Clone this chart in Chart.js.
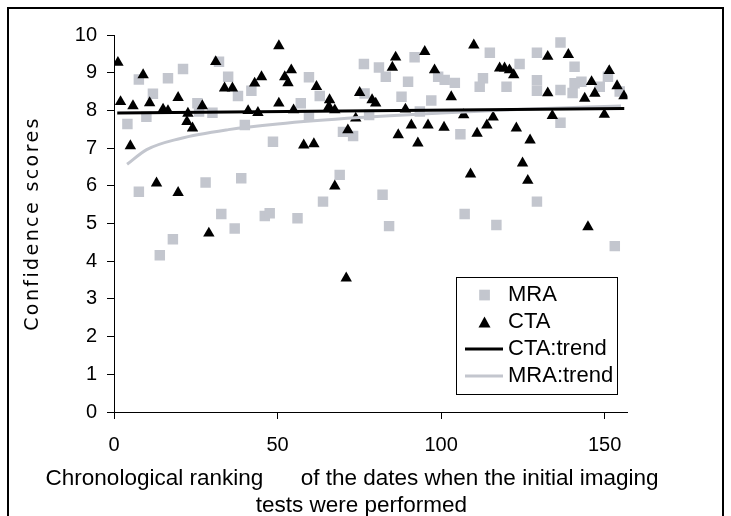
<!DOCTYPE html>
<html><head><meta charset="utf-8">
<script src="https://cdn.jsdelivr.net/npm/chart.js@4.4.0/dist/chart.umd.min.js"></script>
<style>html,body{margin:0;padding:0;background:#fff;}canvas{display:block;}</style>
</head><body>
<canvas id="c" width="731" height="516"></canvas>
<script>
// ---- data ----
const seriesNames = ['MRA', 'CTA', 'CTA:trend', 'MRA:trend'];
const mraX = [7.6,16.5,21.1,11.9,9.9,4.1,25.5,26.0,30.1,32.1,7.6,28.0,32.8,34.9,37.9,42.0,40.0,57.1,59.6,62.9,59.6,48.6,70.0,38.9,69.0,63.9,36.9,46.1,47.6,56.1,18.0,14.0,76.4,81.0,83.1,91.9,89.9,76.6,87.9,97.0,99.1,101.1,104.2,78.0,73.1,93.5,105.9,82.1,107.2,84.1,116.9,136.5,114.9,129.3,124.0,140.8,112.8,111.8,120.0,129.3,129.3,136.5,140.8,142.9,148.5,151.0,154.6,136.5,129.3,153.1,140.2];
const mraY = [8.82,8.85,9.10,8.44,7.83,7.64,8.19,7.97,7.94,9.29,5.84,6.09,5.25,8.89,8.38,8.52,7.61,8.19,8.88,8.38,7.85,7.17,7.43,6.20,6.29,5.58,4.87,5.20,5.27,5.14,4.58,4.16,9.23,9.14,8.89,9.41,8.76,8.45,8.36,8.26,8.89,8.81,8.73,7.88,7.32,7.97,7.37,5.76,5.25,4.93,4.96,9.80,9.53,9.53,9.23,9.16,8.85,8.63,8.63,8.80,8.52,8.54,8.72,8.76,8.63,8.89,8.50,7.67,5.58,4.40,8.46];
const ctaX = [1.2,8.9,2.0,5.8,10.9,15.0,16.5,19.6,22.6,22.3,24.0,27.0,31.1,33.8,5.0,13.0,19.6,50.4,45.1,43.0,54.2,52.2,53.2,36.2,61.9,41.0,44.0,50.4,54.9,65.9,65.7,67.5,58.0,61.1,71.5,67.5,95.0,86.1,85.1,98.0,75.1,78.9,80.0,103.1,89.1,73.9,90.9,96.0,100.9,86.9,92.9,106.9,110.0,117.9,119.4,120.9,122.2,132.6,138.9,132.6,146.0,147.0,143.9,151.4,115.9,114.0,111.0,123.0,127.2,134.0,149.9,109.0,124.9,126.5,29.0,71.0,144.9,153.8,155.9];
const ctaY = [9.27,8.94,8.23,8.12,8.20,8.03,7.99,8.34,7.92,7.70,7.53,8.12,9.29,8.59,7.06,6.07,5.82,9.71,8.89,8.72,9.07,8.89,8.73,8.59,8.63,7.99,7.94,8.19,8.01,8.28,8.10,8.01,7.08,7.11,7.48,5.99,9.56,9.41,9.14,9.07,8.47,8.28,8.19,8.36,8.03,7.79,7.61,7.61,7.55,7.35,7.13,7.88,9.73,9.12,9.12,9.07,8.94,9.43,9.48,8.46,8.76,8.45,8.32,9.05,7.82,7.61,7.39,7.53,7.21,7.86,7.89,6.31,6.60,6.14,4.74,3.55,4.91,8.65,8.38];
const ctaTrendX = [1, 156];
const ctaTrendY = [7.93, 8.05];
const mraTrendX = [4, 10, 20, 35, 50, 75, 100, 125, 155];
const mraTrendY = [6.57, 6.96, 7.25, 7.49, 7.64, 7.81, 7.93, 8.03, 8.12];
const xTickValues = [0, 50, 100, 150];
const yTickValues = [0, 1, 2, 3, 4, 5, 6, 7, 8, 9, 10];
const xMax = 157;
const xTitleLines = ['Chronological ranking      of the dates when the initial imaging      ', 'tests were performed   '];
const yTitleText = 'Confidence scores';

// ---- styling ----
const GRAY = '#c3c6ce';
const BLACK = '#000000';
const pts = (xs, ys) => xs.map((x, i) => ({x: x, y: ys[i]}));
const PX_PER_UNIT = 3.271;
const PLOT_LEFT = 114;

function makeIcon(draw) {
  const c = document.createElement('canvas');
  c.width = 44; c.height = 14;
  draw(c.getContext('2d'));
  return c;
}
const icons = [
  makeIcon(g => { g.fillStyle = GRAY; g.fillRect(20.2, 1.7, 10.7, 10.7); }),
  makeIcon(g => { g.fillStyle = BLACK; g.beginPath(); g.moveTo(25.5, 1.5); g.lineTo(31.5, 12.5); g.lineTo(19.5, 12.5); g.closePath(); g.fill(); }),
  makeIcon(g => { g.fillStyle = BLACK; g.fillRect(6, 5.5, 38, 3); }),
  makeIcon(g => { g.fillStyle = GRAY; g.fillRect(6, 5.5, 38, 3); })
];

const LEGFRAME = {left: 456, top: 277, right: 617, bottom: 394};

const framePlugin = {
  id: 'frames',
  afterLayout(chart) {
    const L = chart.legend;
    if (L) {
      L.left = 460; L.top = 279;
      L.right = 460 + L.width; L.bottom = 279 + 300;
    }
  },
  beforeDraw(chart) {
    const s = chart.scales.y;
    if (s && !s._lsPatched) {
      const orig = s.drawTitle;
      s.drawTitle = function() {
        const ctx = this.ctx; ctx.save();
        ctx.letterSpacing = '2.4px';
        orig.apply(this, arguments);
        ctx.restore();
      };
      s._lsPatched = true;
    }
    const sx = chart.scales.x;
    if (sx && !sx._twPatched) {
      const origX = sx.drawTitle;
      sx.drawTitle = function() {
        const l = this.left, r = this.right, c = (l + r) / 2;
        this.left = c - 400; this.right = c + 400;
        try { origX.apply(this, arguments); } finally { this.left = l; this.right = r; }
      };
      sx._twPatched = true;
    }
  },
  afterDraw(chart) {
    const ctx = chart.ctx;
    ctx.save();
    ctx.strokeStyle = '#000';
    ctx.lineWidth = 1;
    ctx.strokeRect(LEGFRAME.left + 0.5, LEGFRAME.top + 0.5, LEGFRAME.right - LEGFRAME.left, LEGFRAME.bottom - LEGFRAME.top);
    ctx.lineWidth = 2;
    ctx.strokeRect(8, 8, 715, 530);
    ctx.restore();
  }
};

const tickFont = {family: "'Liberation Sans', Arial, sans-serif", size: 20};

new Chart(document.getElementById('c'), {
  type: 'scatter',
  data: {
    datasets: [
      {label: seriesNames[0], data: pts(mraX, mraY), pointStyle: 'rect', pointRadius: 7.4, pointHoverRadius: 7.4,
       backgroundColor: GRAY, borderColor: GRAY, borderWidth: 0, order: 4},
      {label: seriesNames[1], data: pts(ctaX, ctaY), pointStyle: 'triangle', pointRadius: 6.6, pointHoverRadius: 6.6,
       backgroundColor: BLACK, borderColor: BLACK, borderWidth: 0, order: 3},
      {label: seriesNames[2], type: 'line', data: pts(ctaTrendX, ctaTrendY), borderColor: BLACK, backgroundColor: BLACK,
       borderWidth: 3, pointRadius: 0, showLine: true, fill: false, order: 1},
      {label: seriesNames[3], type: 'line', data: pts(mraTrendX, mraTrendY), borderColor: GRAY, backgroundColor: GRAY,
       borderWidth: 3, pointRadius: 0, showLine: true, fill: false, cubicInterpolationMode: 'monotone', order: 2}
    ]
  },
  options: {
    responsive: false,
    maintainAspectRatio: false,
    animation: false,
    devicePixelRatio: 1,
    layout: {padding: {left: 0, top: 35, right: 731 - (PLOT_LEFT + xMax * PX_PER_UNIT), bottom: 0}},
    plugins: {
      tooltip: {enabled: false},
      title: {display: false},
      legend: {
        display: true,
        position: 'chartArea',
        align: 'start',
        labels: {
          usePointStyle: true,
          pointStyleWidth: 32,
          padding: 5,
          color: '#000',
          font: {family: "'Liberation Sans', Arial, sans-serif", size: 22},
          generateLabels: (chart) => chart.data.datasets.map((ds, i) => ({
            text: ds.label, pointStyle: icons[i], fillStyle: ds.backgroundColor,
            strokeStyle: ds.borderColor, lineWidth: 0, hidden: false, datasetIndex: i
          }))
        }
      }
    },
    scales: {
      x: {
        type: 'linear', position: 'bottom', min: 0, max: xMax,
        afterFit: (s) => { s.height = 104; },
        afterBuildTicks: (s) => { s.ticks = xTickValues.map(v => ({value: v})); },
        ticks: {stepSize: 50, includeBounds: false, font: tickFont, color: '#000', padding: 14, maxRotation: 0},
        grid: {drawOnChartArea: false, drawTicks: true, tickLength: 7, color: '#000', lineWidth: 1},
        border: {display: true, color: '#000', width: 1},
        title: {display: true, text: xTitleLines, color: '#000',
                font: {family: "'Liberation Sans', Arial, sans-serif", size: 22.5, lineHeight: 1.178}, padding: {top: 0, bottom: -3}}
      },
      y: {
        type: 'linear', position: 'left', min: 0, max: 10,
        afterFit: (s) => { s.width = PLOT_LEFT; },
        afterBuildTicks: (s) => { s.ticks = yTickValues.map(v => ({value: v})); },
        ticks: {stepSize: 1, font: tickFont, color: '#000', padding: 10},
        grid: {drawOnChartArea: false, drawTicks: true, tickLength: 7, color: '#000', lineWidth: 1},
        border: {display: true, color: '#000', width: 1},
        title: {display: true, text: yTitleText, color: '#000',
                font: {family: "'DejaVu Sans', sans-serif", size: 19, lineHeight: 1.2}, padding: {top: 22, bottom: 0}}
      }
    }
  },
  plugins: [framePlugin]
});
</script>
</body></html>
